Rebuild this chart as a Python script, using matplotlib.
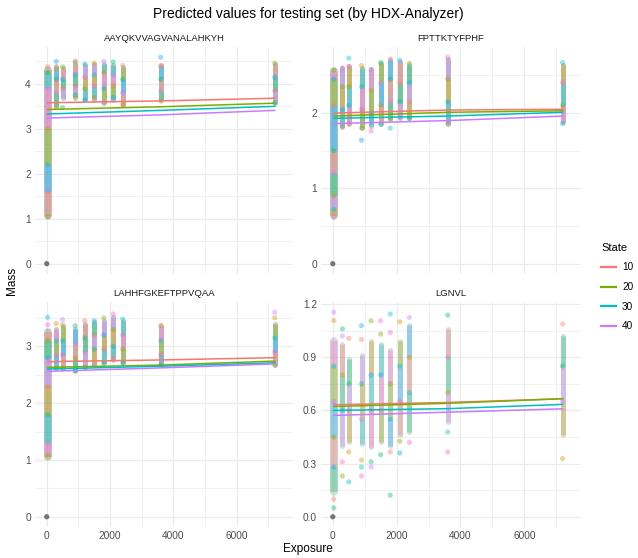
import numpy as np
import matplotlib
matplotlib.use("Agg")
import matplotlib.pyplot as plt

plt.rcParams['font.family'] = ['Liberation Sans', 'DejaVu Sans']

# exposure times of the measured columns (first one sits right next to 0)
expo = [30, 300, 500, 900, 1200, 1500, 1800, 2100, 2400, 3600, 7200]
peptides = ["AAYQKVVAGVANALAHKYH", "FPTTKTYFPHF", "LAHHFGKEFTPPVQAA", "LGNVL"]

# dense part of each column (low / high mass)
band_lo = [
    [1.05, 3.51, 3.68, 3.69, 3.65, 3.63, 3.58, 3.65, 3.53, 3.65, 3.58],
    [0.63, 1.82, 1.86, 1.80, 1.83, 1.85, 1.92, 1.94, 1.93, 1.86, 1.88],
    [1.05, 2.61, 2.61, 2.57, 2.63, 2.67, 2.71, 2.76, 2.71, 2.67, 2.67],
    [0.14, 0.40, 0.42, 0.41, 0.395, 0.42, 0.40, 0.46, 0.48, 0.535, 0.46],
]
band_hi = [
    [4.30, 4.40, 4.35, 4.45, 4.42, 4.44, 4.45, 4.42, 4.37, 4.42, 4.45],
    [2.56, 2.60, 2.62, 2.60, 2.58, 2.66, 2.70, 2.68, 2.64, 2.72, 2.64],
    [3.25, 3.31, 3.35, 3.30, 3.40, 3.42, 3.45, 3.52, 3.45, 3.35, 3.40],
    [0.99, 0.975, 0.89, 0.91, 0.99, 0.975, 0.94, 0.99, 1.08, 1.06, 1.02],
]
# single predictions per column
points = [
    [[4.38, 4.25, 3.9, 3.0, 2.2, 1.6, 1.05], [4.50, 4.33, 4.1, 3.8, 3.47],
     [4.38, 4.1, 3.9, 3.47], [4.51, 4.48, 4.2, 3.95, 3.75], [4.44, 4.15, 3.9, 3.64],
     [4.46, 4.2, 3.95, 3.7], [4.50, 4.25, 3.9, 3.58], [4.49, 4.2, 3.95, 3.7],
     [4.41, 4.1, 3.8, 3.53], [4.59, 4.40, 4.1, 3.85, 3.62], [4.46, 4.15, 3.85, 3.58]],
    [[2.57, 2.45, 2.1, 1.5, 1.2, 0.9, 0.72, 0.63], [2.60, 2.35, 2.05, 1.82],
     [2.73, 2.62, 2.35, 2.1, 1.86], [2.63, 2.35, 2.05, 1.80, 1.64], [2.58, 2.3, 2.0, 1.76],
     [2.67, 2.4, 2.1, 1.85], [2.72, 2.45, 2.15, 1.92, 1.80], [2.70, 2.4, 2.15, 1.94],
     [2.66, 2.4, 2.15, 1.93], [2.74, 2.45, 2.15, 1.86], [2.67, 2.4, 2.1, 1.86]],
    [[3.51, 3.38, 3.1, 2.8, 2.3, 1.8, 1.3, 1.08], [3.40, 3.1, 2.85, 2.61],
     [3.47, 3.38, 3.1, 2.85, 2.61], [3.36, 3.05, 2.8, 2.57], [3.45, 3.15, 2.9, 2.63],
     [3.45, 3.2, 2.95, 2.67], [3.50, 3.2, 2.95, 2.71], [3.57, 3.3, 3.0, 2.8],
     [3.48, 3.2, 2.95, 2.71], [3.37, 3.1, 2.85, 2.67], [3.60, 3.50, 3.15, 2.9, 2.67]],
    [[1.154, 1.107, 0.85, 0.65, 0.45, 0.28, 0.10, 0.05], [1.06, 1.02, 0.8, 0.6, 0.31, 0.23],
     [1.006, 0.75, 0.6, 0.366, 0.197], [1.078, 1.0, 0.75, 0.55, 0.32, 0.28, 0.23],
     [1.106, 0.8, 0.6, 0.31, 0.28], [1.106, 1.03, 0.8, 0.6, 0.35],
     [1.144, 1.04, 0.75, 0.55, 0.366, 0.122], [1.10, 0.85, 0.65, 0.426, 0.36],
     [1.125, 0.9, 0.7, 0.42], [1.138, 0.9, 0.7, 0.478, 0.366], [1.087, 0.85, 0.65, 0.328]],
]

# fitted mass per state
states = ["10", "20", "30", "40"]
line_x = [30, 3600, 7200]
fit = [
    [[3.58, 3.62, 3.68], [3.43, 3.49, 3.57], [3.33, 3.41, 3.50], [3.24, 3.31, 3.41]],
    [[2.00, 2.04, 2.05], [1.96, 2.01, 2.03], [1.93, 1.96, 2.01], [1.86, 1.90, 1.96]],
    [[2.73, 2.76, 2.80], [2.63, 2.67, 2.74], [2.60, 2.65, 2.71], [2.56, 2.62, 2.69]],
    [[0.632, 0.645, 0.666], [0.622, 0.64, 0.666], [0.60, 0.61, 0.634], [0.572, 0.59, 0.609]],
]
yticks = [[0, 1, 2, 3, 4], [0, 1, 2], [0, 1, 2, 3], [0, 0.3, 0.6, 0.9, 1.2]]

state_cols = ['#F8766D', '#7CAE00', '#00BFC4', '#C77CFF']
pt_cols = ['#F8766D', '#CD9600', '#7CAE00', '#00BE67', '#00BFC4', '#00A9FF', '#C77CFF', '#FF61CC']

W, H = 638, 558
fig = plt.figure(figsize=(W / 100, H / 100), dpi=100)
boxes = [(35, 47, 293, 274), (321, 47, 581, 274),
         (35, 302, 293, 527), (321, 302, 581, 527)]

grid = '#ebebeb'
handles = []
for k, (x0, y0, x1, y1) in enumerate(boxes):
    ax = fig.add_axes([x0 / W, 1 - y1 / H, (x1 - x0) / W, (y1 - y0) / H])
    for s in ax.spines.values():
        s.set_visible(False)
    ax.set_xlim(-370, 7776)
    ymax = max(max(c) for c in points[k])
    ax.set_ylim(-0.05 * ymax, 1.05 * ymax)
    ax.set_xticks([0, 2000, 4000, 6000])
    ax.set_xticks([1000, 3000, 5000, 7000], minor=True)
    yt = yticks[k]
    step = yt[1] - yt[0]
    minor = [v + step / 2 for v in yt]
    ax.set_yticks(yt)
    ax.set_yticks([v for v in minor if v < 1.05 * ymax], minor=True)
    if k == 3:
        ax.set_yticklabels(['%.1f' % v for v in yt])
    ax.grid(which='major', color=grid, lw=0.9)
    ax.grid(which='minor', color=grid, lw=0.5)
    ax.set_axisbelow(True)
    ax.tick_params(which='both', length=0, labelsize=7.3, labelcolor='#4d4d4d', pad=3)
    if k < 2:
        ax.tick_params(axis='x', labelbottom=False)

    base_alpha = 0.35 if k == 3 else 0.55
    seg_alpha = 0.3 if k == 3 else 0.4
    for i, x in enumerate(expo):
        lo, hi = band_lo[k][i], band_hi[k][i]
        ys = points[k][i]
        lw = 5.5 if i == 0 else 3.6
        ax.vlines(x, lo, hi, colors='#8e9f98', lw=lw, alpha=base_alpha,
                  capstyle='round', zorder=2)
        # tint the dense part piece by piece between the single predictions
        cuts = sorted({lo, hi} | {v for v in ys if lo < v < hi})
        for j, (a, b) in enumerate(zip(cuts[:-1], cuts[1:])):
            ax.vlines(x, a, b, colors=pt_cols[(i * 3 + j * 5 + k) % 8], lw=lw,
                      alpha=seg_alpha, zorder=2)
        cs = [pt_cols[(i * 5 + j * 3 + k * 2) % 8] for j in range(len(ys))]
        ax.scatter([x] * len(ys), ys, s=14, c=cs, alpha=0.4, edgecolors='none', zorder=3)
    ax.scatter([0], [0], s=14, c='#6f7770', edgecolors='none', zorder=3)

    hs = []
    for j, st in enumerate(states):
        h, = ax.plot(line_x, fit[k][j], color=state_cols[j], lw=1.1, zorder=4, label=st)
        hs.append(h)
    handles = hs
    ax.set_title(peptides[k], fontsize=6.8, color='#1a1a1a', pad=4)

fig.text(308 / W, 1 - 14 / H, "Predicted values for testing set (by HDX-Analyzer)",
         ha='center', va='center', fontsize=10)
fig.text(12 / W, 1 - 281 / H, "Mass", rotation=90, ha='center', va='center', fontsize=8.5)
fig.text(308 / W, 1 - 549 / H, "Exposure", ha='center', va='center', fontsize=8.5)

leg = fig.legend(handles=handles, labels=states, title="State", loc='upper left',
                 bbox_to_anchor=(597 / W, 1 - 239 / H), frameon=False, fontsize=7.2,
                 title_fontsize=8, handlelength=1.5, handletextpad=0.6, labelspacing=0.95,
                 borderaxespad=0)
leg._legend_box.align = 'left'
for l in leg.get_lines():
    l.set_linewidth(1.6)

fig.savefig('out.png', dpi=100)
